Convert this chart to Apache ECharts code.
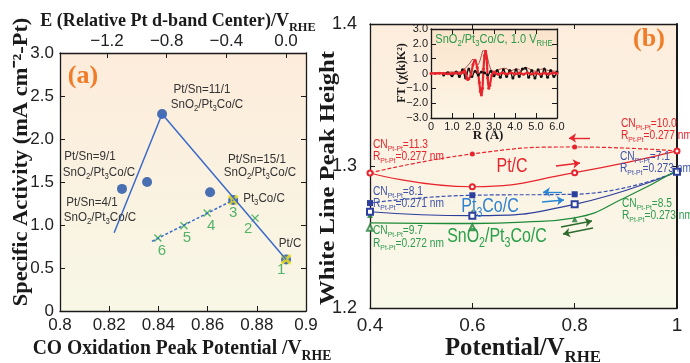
<!DOCTYPE html>
<html>
<head>
<meta charset="utf-8">
<script src="https://cdn.jsdelivr.net/npm/echarts@6/dist/echarts.min.js"></script>
<style>
  html, body { margin: 0; padding: 0; background: #fff; }
  #chart { width: 690px; height: 363px; }
</style>
</head>
<body>
<div id="chart"></div>
<script>
// ---- panel (a): specific activity vs CO oxidation peak potential
const coPeak = [0.8252, 0.8354, 0.8415, 0.861, 0.8704, 0.8919];
const activity = [1.42, 1.50, 2.29, 1.38, 1.29, 0.60];
const trendX = [0.822, 0.8415, 0.8919];
const trendY = [0.91, 2.29, 0.60];
const calcX = [0.8919, 0.8793, 0.8704, 0.8598, 0.8504, 0.8398];
const calcY = [0.60, 1.08, 1.29, 1.14, 0.99, 0.85];
const calcNames = ["1", "2", "3", "4", "5", "6"];
const calcOnExp = [0, 2];
const calcLineX = [0.8374, 0.8704];
const calcLineY = [0.81, 1.29];
const dbandTicks = [-1.2, -0.8, -0.4, 0.0];

// ---- panel (b): white line peak height vs potential
const potential = [0.4, 0.6, 0.8, 1.0];
const ptcRev = [1.2951, 1.3085, 1.3134, 1.3106];
const ptcFwd = [1.2951, 1.2854, 1.2953, 1.3106];
const pt3coRev = [1.2739, 1.2794, 1.2801, 1.2960];
const pt3coFwd = [1.2678, 1.2650, 1.2730, 1.2960];
const snFilled = [1.2655, 1.2674, 1.2625, 1.2970];
const snOpenX = [0.4, 0.6];
const snOpen = [1.2566, 1.2568];
const snFitX = [0.4, 0.5, 0.6, 0.7, 0.8, 0.9, 1.0];
const snFit = [1.2599, 1.2596, 1.2595, 1.2605, 1.2635, 1.278, 1.297];
const arrowsPtC = [[[0.830, 1.3197], [0.789, 1.3197]], [[0.7635, 1.3000], [0.8104, 1.3021]]];
const arrowsPt3Co = [[[0.7752, 1.2817], [0.7381, 1.2817]], [[0.7361, 1.2746], [0.7791, 1.2761]]];
const arrowsSn = [[[0.7733, 1.2570], [0.8339, 1.2613]], [[0.8358, 1.2563], [0.7772, 1.2521]]];

// ---- inset: FT of EXAFS
const expR = [0.6, 0.8, 1.0, 1.2, 1.35, 1.5, 1.65, 1.8, 1.95, 2.1, 2.25, 2.4, 2.55, 2.7, 2.85, 3.0,
  3.15, 3.3, 3.45, 3.6, 3.75, 3.9, 4.05, 4.2, 4.35, 4.5, 4.65, 4.8, 4.95, 5.1, 5.25, 5.4, 5.55, 5.7, 5.85, 6.0];
const expFT = [-0.1, 0.05, -0.15, 0.1, -0.2, 0.25, -0.3, 0.3, -0.2, 0.15, -0.1, 0.1, 0.05, -0.1, 0.15, -0.15,
  0.2, -0.25, 0.25, -0.2, 0.2, -0.3, 0.25, -0.2, 0.3, 0.35, -0.25, 0.2, -0.3, 0.25, -0.2, 0.3, -0.25, 0.2, -0.2, 0.1];
const fitR = [0, 0.2, 0.4, 0.6, 0.8, 1.0, 1.2, 1.4, 1.5, 1.6, 1.65, 1.7, 1.75, 1.8, 1.9,
  2.0, 2.1, 2.2, 2.3, 2.35, 2.4, 2.45, 2.5, 2.55, 2.6, 2.65, 2.7, 2.75, 2.8, 2.9,
  3.0, 3.2, 3.4, 3.6, 3.8, 4.0, 4.2, 4.4, 4.6, 4.8, 5.0, 5.2, 5.4, 5.6, 5.8, 6.0];
const fitFT = [0, 0, 0.02, 0, -0.02, 0, 0.03, 0, 0.08, 0.2, 0.05, -0.3, -0.4, -0.35, -0.1,
  0.6, 0.9, 0.4, -0.6, -1.2, -1.45, -1.0, 0.3, 1.2, 1.5, 1.0, -0.3, -1.0, -0.8, -0.1,
  0.08, -0.05, 0.05, -0.04, 0.05, -0.03, 0.04, -0.05, 0.05, -0.04, 0.03, -0.05, 0.04, -0.03, 0.04, 0];
const magR = [0, 0.5, 1.0, 1.3, 1.5, 1.7, 1.85, 2.0, 2.1, 2.2, 2.3, 2.4, 2.5, 2.6, 2.7,
  2.8, 2.9, 3.0, 3.2, 3.5, 3.8, 4.1, 4.3, 4.5, 4.7, 5.0, 5.3, 5.6, 6.0];
const magFT = [0.05, 0.05, 0.1, 0.1, 0.25, 0.45, 0.7, 0.95, 0.85, 0.55, 0.75, 1.2, 1.55, 1.5, 1.0,
  0.45, 0.2, 0.15, 0.25, 0.35, 0.2, 0.3, 0.2, 0.4, 0.3, 0.15, 0.3, 0.2, 0.15];

const SANS = '"Liberation Sans", Arial, sans-serif';
const SANS_N = '"Liberation Sans Narrow", "Liberation Sans", Arial, sans-serif';
const SERIF = '"Liberation Serif", "Times New Roman", serif';
const INK = "#1a1a1a";
const RED = "#e8242c";
const BLUE = "#2d3f9c";
const GREEN = "#1f8a3a";
const ORANGE = "#f07c28";

const zip = (xs, ys) => xs.map((x, i) => [x, ys[i]]);
const xMark = "path://M0,0L10,10M10,0L0,10";

function mk(str) {
  return "{n|" + str.replace(/_\{([^}]*)\}/g, "}{s|$1}{n|") + "}";
}

function richSet(size, fill, family, weight) {
  const sub = Math.round(size * 0.68);
  return {
    n: { fontSize: size, fontFamily: family, fontWeight: weight, fill: fill, lineHeight: size + 2, verticalAlign: "top" },
    s: { fontSize: sub, fontFamily: family, fontWeight: weight, fill: fill, lineHeight: sub + 1, padding: [Math.round(size * 0.5), 0, 0, 0], verticalAlign: "top" }
  };
}

function txt(x, y, str, o) {
  return {
    type: "text", x: x, y: y, rotation: o.rot || 0, scaleX: o.sx || 1, silent: true, z: 100,
    style: {
      text: mk(str),
      rich: richSet(o.size, o.color, o.family || SANS, o.weight || "normal"),
      textAlign: o.align || "center",
      textVerticalAlign: "middle"
    }
  };
}

function bg(top, bottom) {
  return new echarts.graphic.LinearGradient(0, 0, 0, 1, [
    { offset: 0, color: top }, { offset: 1, color: bottom }
  ]);
}

function axis(extra) {
  return Object.assign({
    type: "value",
    axisLine: { show: true, onZero: false, lineStyle: { color: INK, width: 1.3 } },
    axisTick: { inside: true, length: 5, lineStyle: { color: INK, width: 1 } },
    splitLine: { show: false },
    axisLabel: { color: "#222", fontFamily: SANS_N, fontSize: 17 }
  }, extra);
}

function arrowLines(list, color) {
  return {
    silent: true, animation: false, symbol: ["none", "arrow"], symbolSize: 7,
    label: { show: false },
    emphasis: { disabled: true },
    lineStyle: { color: color, width: 1.4, type: "solid" },
    data: list.map((seg) => [{ coord: seg[0] }, { coord: seg[1] }])
  };
}

const fmt1 = (v) => (v === 0 ? "0" : (v < 0 ? "\u2212" : "") + Math.abs(v).toFixed(1));

const chart = echarts.init(document.getElementById("chart"), null, { renderer: "canvas" });

chart.setOption({
  animation: false,
  grid: [
    { left: 60, top: 53, width: 246, height: 258, show: true, borderWidth: 0, backgroundColor: bg("#fdecdb", "#f8f7e6") },
    { left: 370, top: 24, width: 307, height: 284, show: true, borderWidth: 0, backgroundColor: bg("#fdeddd", "#f9f9ea") },
    { left: 431, top: 29, width: 126, height: 89, show: true, borderWidth: 0, backgroundColor: bg("#fbe3cb", "#fdf6e6") }
  ],
  xAxis: [
    axis({ gridIndex: 0, position: "bottom", min: 0.8, max: 0.9, interval: 0.02,
      axisLabel: { color: "#222", fontFamily: SANS_N, fontSize: 17, margin: 6, formatter: (v) => String(+v.toFixed(2)) } }),
    axis({ gridIndex: 0, position: "top", min: -1.515, max: 0.134,
      axisTick: { inside: true, length: 5, lineStyle: { color: INK }, customValues: dbandTicks },
      axisLabel: { color: "#222", fontFamily: SANS_N, fontSize: 17, margin: 3, customValues: dbandTicks,
        formatter: (v) => (v < 0 ? "\u2212" : "") + Math.abs(v).toFixed(1) } }),
    axis({ gridIndex: 1, position: "bottom", min: 0.4, max: 1.0, interval: 0.2,
      axisLabel: { color: "#222", fontFamily: SANS_N, fontSize: 19, margin: 8, formatter: (v) => String(+v.toFixed(1)) } }),
    axis({ gridIndex: 1, position: "top", min: 0.4, max: 1.0, interval: 0.2, axisLabel: { show: false } }),
    axis({ gridIndex: 2, position: "bottom", min: 0, max: 6, interval: 1,
      axisLabel: { color: "#222", fontFamily: SANS_N, fontSize: 11, margin: 3, formatter: fmt1 } }),
    axis({ gridIndex: 2, position: "top", min: 0, max: 6, interval: 1, axisLabel: { show: false } })
  ],
  yAxis: [
    axis({ gridIndex: 0, position: "left", min: 0, max: 3, interval: 0.5,
      axisLabel: { color: "#222", fontFamily: SANS_N, fontSize: 17, margin: 6, formatter: fmt1 } }),
    axis({ gridIndex: 0, position: "right", min: 0, max: 3, interval: 0.5, axisLabel: { show: false } }),
    axis({ gridIndex: 1, position: "left", min: 1.2, max: 1.4, interval: 0.1,
      axisLabel: { color: "#222", fontFamily: SANS_N, fontSize: 18, margin: 13, formatter: (v) => v.toFixed(1) } }),
    axis({ gridIndex: 1, position: "right", min: 1.2, max: 1.4, interval: 0.1, axisLabel: { show: false },
      axisLine: { show: true, onZero: false, lineStyle: { color: INK, width: 2 } } }),
    axis({ gridIndex: 2, position: "left", min: -3, max: 3, interval: 1,
      axisLabel: { color: "#222", fontFamily: SANS_N, fontSize: 11, margin: 3, formatter: fmt1 } }),
    axis({ gridIndex: 2, position: "right", min: -3, max: 3, interval: 1, axisLabel: { show: false } })
  ],
  series: [
    // panel (a)
    { type: "line", xAxisIndex: 0, yAxisIndex: 0, data: zip(trendX, trendY), showSymbol: false,
      lineStyle: { color: "#3b6bc9", width: 1.5 } },
    { type: "line", xAxisIndex: 0, yAxisIndex: 0, data: zip(calcLineX, calcLineY), showSymbol: false,
      lineStyle: { color: "#3b6bc9", width: 1.5, type: [3, 2] } },
    { type: "scatter", xAxisIndex: 0, yAxisIndex: 0, data: zip(coPeak, activity), symbolSize: 10,
      itemStyle: { color: "#1c4da6" } },
    { type: "scatter", xAxisIndex: 0, yAxisIndex: 0, data: calcOnExp.map((i) => [calcX[i], calcY[i]]),
      symbol: xMark, symbolSize: 9, itemStyle: { color: "transparent", borderColor: "#f2e21a", borderWidth: 3 } },
    { type: "scatter", xAxisIndex: 0, yAxisIndex: 0,
      data: calcX.map((x, i) => [x, calcY[i]]).filter((_, i) => calcOnExp.indexOf(i) < 0),
      symbol: xMark, symbolSize: 7, itemStyle: { color: "transparent", borderColor: "#2aa84a", borderWidth: 1.4 } },
    { type: "scatter", xAxisIndex: 0, yAxisIndex: 0, symbolSize: 0,
      data: calcX.map((x, i) => ({
        value: [x, calcY[i]], name: calcNames[i],
        label: { offset: [[-5, 10], [-7, 11], [0, 13], [4, 13], [3, 12], [4, 13]][i] }
      })),
      label: { show: true, position: "inside", formatter: (p) => p.name, color: "#29a348", fontFamily: SANS, fontSize: 15 } },

    // panel (b)
    { type: "line", xAxisIndex: 2, yAxisIndex: 2, data: zip(potential, ptcRev), smooth: true,
      symbol: "circle", symbolSize: 5, itemStyle: { color: RED }, lineStyle: { color: RED, width: 1.2, type: [4, 2] },
      markLine: arrowLines(arrowsPtC, RED) },
    { type: "line", xAxisIndex: 2, yAxisIndex: 2, data: zip(potential, ptcFwd), smooth: true,
      symbol: "emptyCircle", symbolSize: 5, itemStyle: { color: RED, borderColor: RED }, lineStyle: { color: RED, width: 1.2 } },
    { type: "line", xAxisIndex: 2, yAxisIndex: 2, data: zip(potential, pt3coRev), smooth: true,
      symbol: "rect", symbolSize: 6, itemStyle: { color: BLUE }, lineStyle: { color: "#3a4fb0", width: 1.2, type: [4, 2] },
      markLine: arrowLines(arrowsPt3Co, "#2a86d4") },
    { type: "line", xAxisIndex: 2, yAxisIndex: 2, data: zip(potential, pt3coFwd), smooth: true,
      symbol: "emptyRect", symbolSize: 6, itemStyle: { color: BLUE, borderColor: BLUE }, lineStyle: { color: BLUE, width: 1.2 } },
    { type: "line", xAxisIndex: 2, yAxisIndex: 2, data: zip(snFitX, snFit), smooth: true, showSymbol: false,
      lineStyle: { color: GREEN, width: 1.3 }, markLine: arrowLines(arrowsSn, "#2d6a2d") },
    { type: "scatter", xAxisIndex: 2, yAxisIndex: 2, data: zip(potential, snFilled), symbol: "triangle", symbolSize: 6,
      itemStyle: { color: "#1f7a34" } },
    { type: "scatter", xAxisIndex: 2, yAxisIndex: 2, data: zip(snOpenX, snOpen), symbol: "emptyTriangle", symbolSize: 6,
      itemStyle: { color: "#1f7a34", borderColor: "#1f7a34" } },

    // inset
    { type: "line", xAxisIndex: 4, yAxisIndex: 4, data: zip(expR, expFT), smooth: true,
      symbol: "circle", symbolSize: 3, itemStyle: { color: "#111" }, lineStyle: { color: "#111", width: 1.4 } },
    { type: "line", xAxisIndex: 4, yAxisIndex: 4, data: zip(magR, magFT), smooth: true, showSymbol: false,
      lineStyle: { color: "#a83030", width: 0.9 } },
    { type: "line", xAxisIndex: 4, yAxisIndex: 4, data: zip(fitR, fitFT), smooth: 0.3,
      symbol: "circle", symbolSize: 3, itemStyle: { color: RED }, lineStyle: { color: RED, width: 2.2 } }
  ],
  graphic: [
    // axis titles
    txt(178, 22, "E (Relative Pt d-band Center)/V_{RHE}", { size: 19, color: INK, family: SERIF, weight: "bold", sx: 0.95 }),
    txt(182, 350, "CO Oxidation Peak Potential /V_{RHE}", { size: 20, color: INK, family: SERIF, weight: "bold", sx: 0.98 }),
    txt(22, 162, "Specific Activity (mA cm\u207b\u00b2-Pt)", { size: 22, color: INK, family: SERIF, weight: "bold", sx: 1.02, rot: Math.PI / 2 }),
    txt(329, 178, "White Line Peak Height", { size: 22, color: INK, family: SERIF, weight: "bold", sx: 1.12, rot: Math.PI / 2 }),
    txt(523, 350, "Potential/V_{RHE}", { size: 25, color: INK, family: SERIF, weight: "bold", sx: 0.99 }),
    txt(83, 77, "(a)", { size: 26, color: ORANGE, family: SERIF, weight: "bold" }),
    txt(649, 40, "(b)", { size: 26, color: ORANGE, family: SERIF, weight: "bold" }),

    // panel (a) labels
    txt(202, 90, "Pt/Sn=11/1", { size: 13.5, color: "#333", sx: 0.86 }),
    txt(207, 105, "SnO_{2}/Pt_{3}Co/C", { size: 13.5, color: "#333", sx: 0.86 }),
    txt(90, 157, "Pt/Sn=9/1", { size: 13.5, color: "#333", sx: 0.86 }),
    txt(99, 173, "SnO_{2}/Pt_{3}Co/C", { size: 13.5, color: "#333", sx: 0.86 }),
    txt(92, 203, "Pt/Sn=4/1", { size: 13.5, color: "#333", sx: 0.86 }),
    txt(100, 218, "SnO_{2}/Pt_{3}Co/C", { size: 13.5, color: "#333", sx: 0.86 }),
    txt(257, 160, "Pt/Sn=15/1", { size: 13.5, color: "#333", sx: 0.86 }),
    txt(260, 173, "SnO_{2}/Pt_{3}Co/C", { size: 13.5, color: "#333", sx: 0.86 }),
    txt(264, 199, "Pt_{3}Co/C", { size: 13.5, color: "#333", sx: 0.86 }),
    txt(290, 244, "Pt/C", { size: 13.5, color: "#333", sx: 0.86 }),

    // panel (b) labels
    txt(373, 146, "CN_{Pt-Pt}=11.3", { size: 12, color: RED, align: "left", sx: 0.85 }),
    txt(373, 158, "R_{Pt-Pt}=0.277 nm", { size: 12, color: RED, align: "left", sx: 0.85 }),
    txt(621, 125, "CN_{Pt-Pt}=10.0", { size: 12, color: RED, align: "left", sx: 0.85 }),
    txt(621, 137, "R_{Pt-Pt}=0.277 nm", { size: 12, color: RED, align: "left", sx: 0.85 }),
    txt(620, 158, "CN_{Pt-Pt}=7.1", { size: 12, color: "#3d52a8", align: "left", sx: 0.85 }),
    txt(620, 170, "R_{Pt-Pt}=0.273 nm", { size: 12, color: "#3d52a8", align: "left", sx: 0.85 }),
    txt(373, 193, "CN_{Pt-Pt}=8.1", { size: 12, color: "#3d52a8", align: "left", sx: 0.85 }),
    txt(373, 205, "R_{Pt-Pt}=0.271 nm", { size: 12, color: "#3d52a8", align: "left", sx: 0.85 }),
    txt(622, 205, "CN_{Pt-Pt}=8.5", { size: 12, color: "#2e9b4e", align: "left", sx: 0.85 }),
    txt(622, 217, "R_{Pt-Pt}=0.273 nm", { size: 12, color: "#2e9b4e", align: "left", sx: 0.85 }),
    txt(373, 232, "CN_{Pt-Pt}=9.7", { size: 12, color: "#2e9b4e", align: "left", sx: 0.85 }),
    txt(373, 245, "R_{Pt-Pt}=0.272 nm", { size: 12, color: "#2e9b4e", align: "left", sx: 0.85 }),
    txt(512, 167, "Pt/C", { size: 21, color: RED, sx: 0.76 }),
    txt(490, 207, "Pt_{3}Co/C", { size: 21, color: "#2f80d0", sx: 0.76 }),
    txt(497, 237, "SnO_{2}/Pt_{3}Co/C", { size: 21, color: "#2aa04a", sx: 0.76 }),

    // inset labels
    txt(494, 40, "SnO_{2}/Pt_{3}Co/C, 1.0 V_{RHE}", { size: 13, color: "#2a9a48", sx: 0.85 }),
    txt(403, 73, "FT (\u03c7(k)K\u00b2)", { size: 12, color: INK, family: SERIF, weight: "bold", rot: Math.PI / 2 }),
    txt(488, 137, "R (\u00c5)", { size: 13, color: INK, family: SERIF, weight: "bold" })
  ]
});
</script>
</body>
</html>
